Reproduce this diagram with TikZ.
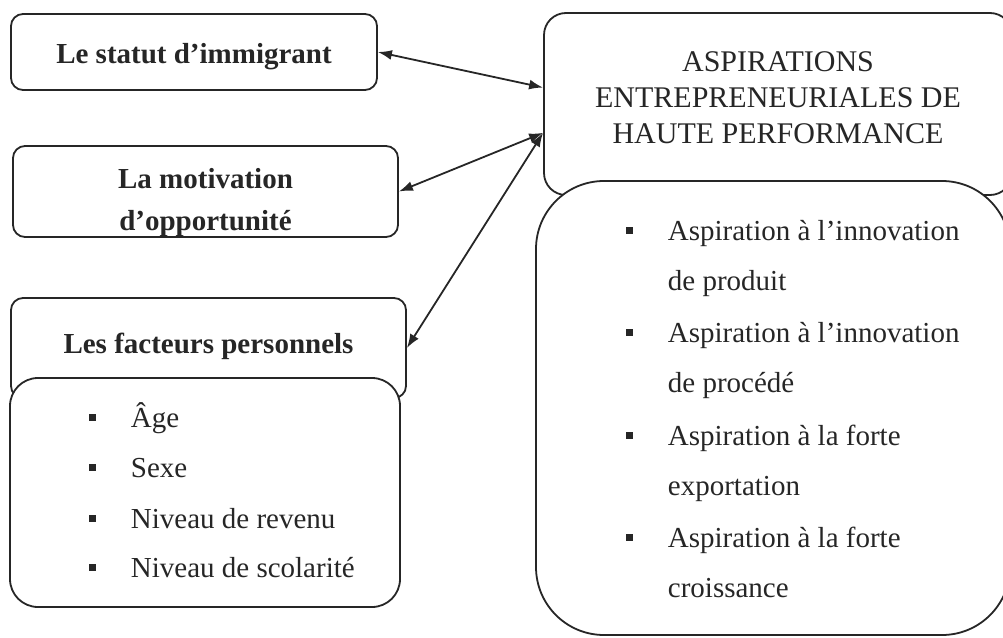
\documentclass[tikz,border=0pt]{standalone}
\usepackage{fontspec}
\setmainfont{Liberation Serif}
\usetikzlibrary{positioning,arrows.meta}

\newcommand{\puce}{\makebox[42pt][l]{\rule[6pt]{7pt}{7pt}}}
\newcommand{\retrait}{\hspace*{42pt}}

\begin{document}
\begin{tikzpicture}[x=1pt,y=-1pt,line width=1.8pt,color=black!85,
    every node/.style={inner sep=0pt},
    titre/.style={draw,fill=white,rounded corners=12pt,anchor=base,align=center,
      font=\fontsize{29}{42}\selectfont\bfseries},
    liste/.style={draw,fill=white},
    item/.style={anchor=base west,font=\fontsize{29}{36}\selectfont},
    >={Latex[length=14pt,width=10pt]}]
        \useasboundingbox (0,0) rectangle (1003,637);
        \clip (0,0) rectangle (1003,637);

        % left column
        \node[titre,minimum width=366pt,text height=49pt,text depth=27pt] (statut) at (194,63) {Le statut d’immigrant};
        \node[titre,minimum width=385pt,text height=84pt,text depth=7pt] (motiv) at (205.5,230) {La motivation\\d’opportunité};
        \node[titre,minimum width=395pt,text height=55pt,text depth=45pt] (fact) at (208.5,353) {Les facteurs personnels};
        \node[liste,rounded corners=28pt,minimum width=390pt,minimum height=229pt] (factl) at (205,492.5) {};

        \foreach \y/\t [count=\i] in {427/\puce Âge,477/\puce Sexe,528/\puce Niveau de revenu,577/\puce Niveau de scolarité}
            \node[item] (f\i) at (88,\y) {\t};

        % right column
        \node[titre,rounded corners=22pt,font=\fontsize{30}{36}\selectfont,minimum width=468pt,text height=130pt,text depth=52pt] (asp) at (778,143)
            {ASPIRATIONS\\ENTREPRENEURIALES DE\\HAUTE PERFORMANCE};
        \node[liste,rounded corners=68pt,minimum width=474pt,minimum height=454pt] (aspl) at (773,408) {};

        \foreach \y/\t [count=\i] in {240/\puce Aspiration à l’innovation,290/\retrait de produit,
            342/\puce Aspiration à l’innovation,392/\retrait de procédé,
            445/\puce Aspiration à la forte,495/\retrait exportation,
            547/\puce Aspiration à la forte,597/\retrait croissance}
            \node[item] (a\i) at (625,\y) {\t};

        \foreach \u / \v in {statut.east/asp.176,motiv.east/asp.187,fact.east/asp.187}
            \draw[<->] (\u) -- (\v);
    \end{tikzpicture}
\end{document}
